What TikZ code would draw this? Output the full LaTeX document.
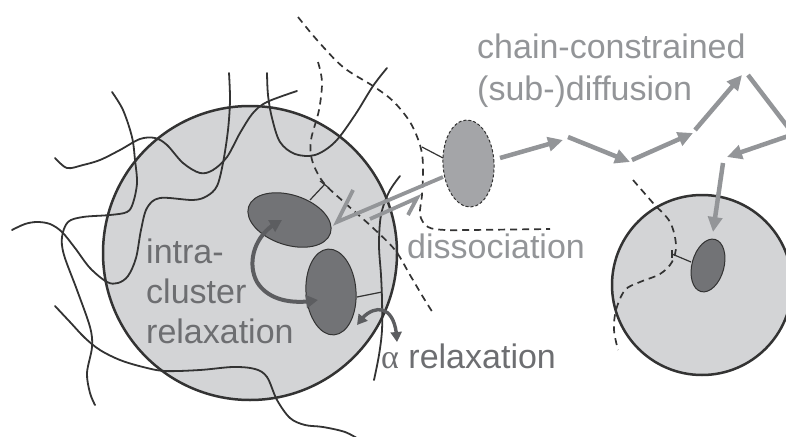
\documentclass[tikz,border=0pt]{standalone}
\usepackage{fontspec}
\setmainfont{Liberation Sans}
\newfontfamily\greekface{Liberation Serif}
\usetikzlibrary{arrows.meta,bending,shapes.geometric}
\definecolor{ink}{HTML}{333333}
\definecolor{cellfill}{HTML}{D3D4D6}
\definecolor{clusterfill}{HTML}{727376}
\definecolor{freefill}{HTML}{A4A5A8}
\definecolor{pathgray}{HTML}{939598}
\definecolor{turngray}{HTML}{5C5D60}
\definecolor{labeldark}{HTML}{6D6E71}
\begin{document}
\begin{tikzpicture}[x=1pt,y=-1pt,
  cell/.style={draw=ink, fill=cellfill, line width=2.5pt},
  chain/.style={draw=ink, line width=1.8pt, line cap=round},
  dchain/.style={draw=ink, line width=1.7pt, dash pattern=on 7pt off 5pt},
  tether/.style={draw=ink, line width=1.2pt},
  cluster/.style={ellipse, draw=ink, line width=1pt, fill=clusterfill, inner sep=0pt},
  freecluster/.style={ellipse, draw=ink, line width=1pt, dash pattern=on 3pt off 2pt, fill=freefill, inner sep=0pt},
  hop/.style={draw=pathgray, line width=4.5pt, -{Triangle[length=15pt,width=14pt]}},
  harpoon/.style={draw=pathgray, line width=3.8pt, line join=miter},
  turn/.style={draw=turngray, line width=4pt, {Triangle[length=12pt,width=13pt]}-{Triangle[length=12pt,width=13pt]}},
  smallturn/.style={draw=turngray, line width=3.4pt, {Triangle[length=10pt,width=11pt]}-{Triangle[length=10pt,width=11pt]}},
  darklabel/.style={text=labeldark, font=\fontsize{34}{40}\selectfont, inner sep=0pt, anchor=base west},
  lightlabel/.style={text=pathgray, font=\fontsize{34}{40}\selectfont, inner sep=0pt, anchor=base west}]
\useasboundingbox (0,0) rectangle (786,436);
\clip (0,0) rectangle (786,436);

% the two cells
\draw[cell] (250,253) circle [radius=147pt];
\draw[cell] (702,285) circle [radius=90pt];

% polymer chains around the left cell
\draw[chain] plot[smooth, tension=0.55] coordinates {(55,158) (67,168) (83,165) (100,160) (120,150) (140,139) (155,138) (167,145) (183,163) (200,173) (213,170) (227,157) (240,133) (253,113) (267,102) (297,91)};
\draw[chain] plot[smooth, tension=0.55] coordinates {(12,230) (25,224) (37,222) (50,224) (62,232) (75,248) (90,268) (107,282) (118,283) (128,276) (136,258) (141,230) (147,208) (160,198) (193,200) (207,196) (217,186) (223,163) (228,130) (230,100) (229,73)};
\draw[chain] plot[smooth, tension=0.55] coordinates {(112,92) (123,110) (132,137) (135,160) (137,183) (133,203) (127,212) (110,215) (83,217) (68,222) (62,237) (64,255) (77,290) (90,327) (92,347) (87,373) (90,393) (95,405)};
\draw[chain] plot[smooth, tension=0.55] coordinates {(267,73) (268,95) (272,118) (280,142) (295,154) (315,155) (335,142) (355,115) (373,86) (387,68)};
\draw[chain] plot[smooth, tension=0.55] coordinates {(55,306) (70,322) (85,338) (100,350) (120,360) (143,367) (165,371) (200,370) (233,367) (255,369) (267,377) (277,400) (290,418) (305,425) (323,427) (345,432) (360,440)};
\draw[chain] plot[smooth, tension=0.55] coordinates {(400,176) (389,192) (381,215) (379,245) (381,275) (382,300) (382,330) (379,355) (374,380)};

% dashed chains
\draw[dchain] plot[smooth, tension=0.55] coordinates {(298,17) (317,40) (343,67) (373,86) (393,101) (410,122) (420,145) (423,165) (422,195) (420,215) (428,227) (445,230) (470,230) (550,229)};
\draw[dchain] plot[smooth, tension=0.55] coordinates {(318,62) (322,82) (319,110) (311,140) (312,160) (323,182) (345,203) (372,227) (395,250) (410,275) (423,297) (433,313)};
\draw[dchain] plot[smooth, tension=0.55] coordinates {(633,180) (653,203) (670,222) (676,245) (672,262) (660,274) (640,282) (625,290) (616,310) (614,330) (618,350)};

% clusters
\node[cluster, minimum width=86pt, minimum height=50pt, rotate=-18] (upper) at (289.5,220) {};
\node[cluster, minimum width=50pt, minimum height=86pt, rotate=4] (lower) at (331,292) {};
\node[freecluster, minimum width=51pt, minimum height=87pt, rotate=3] (free) at (468.5,163.5) {};
\node[cluster, minimum width=32pt, minimum height=54pt, rotate=-15] (bound) at (708,265.5) {};

% tethers binding clusters to chains
\coordinate (tu) at (325,184);
\coordinate (tl) at (382,292);
\coordinate (tf) at (422,147);
\coordinate (tb) at (672,254);
\draw[tether] (310,200) -- (tu);
\draw[tether] (320,181) -- (329,188);
\draw[tether] (357,297) -- (tl);
\draw[tether] (443,158) -- (tf);
\draw[tether] (691,262) -- (tb);
\draw[tether] (672,250) -- (672,258);

% association / dissociation harpoons
\coordinate (ha0) at (443,177);
\coordinate (ha1) at (337,222);
\coordinate (ha2) at (353,190);
\coordinate (hd0) at (370,219);
\coordinate (hd1) at (417,198);
\coordinate (hd2) at (408,215);
\draw[harpoon] (ha0) -- (ha1) -- (ha2);
\draw[harpoon] (hd0) -- (hd1) -- (hd2);

% diffusion hops of the released cluster
\coordinate (p0) at (500,158);
\coordinate (p1) at (563,140);
\coordinate (p2) at (568,137);
\coordinate (p3) at (630,162);
\coordinate (p4) at (632,160);
\coordinate (p5) at (693,133);
\coordinate (p6) at (695,130);
\coordinate (p7) at (742,75);
\coordinate (p8) at (748,75);
\coordinate (p9) at (800,143);
\coordinate (p10) at (800,132);
\coordinate (p11) at (727,157);
\coordinate (p12) at (723,163);
\coordinate (p13) at (713,232);
\draw[hop] (p0) -- (p1);
\draw[hop] (p2) -- (p3);
\draw[hop] (p4) -- (p5);
\draw[hop] (p6) -- (p7);
\draw[draw=pathgray, line width=4.5pt] (p8) -- (p9);
\draw[hop] (p10) -- (p11);
\draw[hop] (p12) -- (p13);

% relaxation arrows
\draw[turn] (282,220) .. controls (255,232) and (246,262) .. (257,282) .. controls (268,300) and (292,305) .. (318,300);
\draw[smallturn] (357,325) .. controls (370,304) and (396,300) .. (397,342);

% labels
\node[darklabel] (l1) at (146,263) {intra-};
\node[darklabel] (l2) at (146,303) {cluster};
\node[darklabel] (l3) at (146,343) {relaxation};
\node[lightlabel] (l4) at (407,258) {dissociation};
\node[lightlabel] (l5) at (477,59) {chain-constrained};
\node[lightlabel] (l6) at (477,100) {(sub-)diffusion};
\node[darklabel] (l7) at (381,368) {{\greekface α} relaxation};
\end{tikzpicture}
\end{document}
